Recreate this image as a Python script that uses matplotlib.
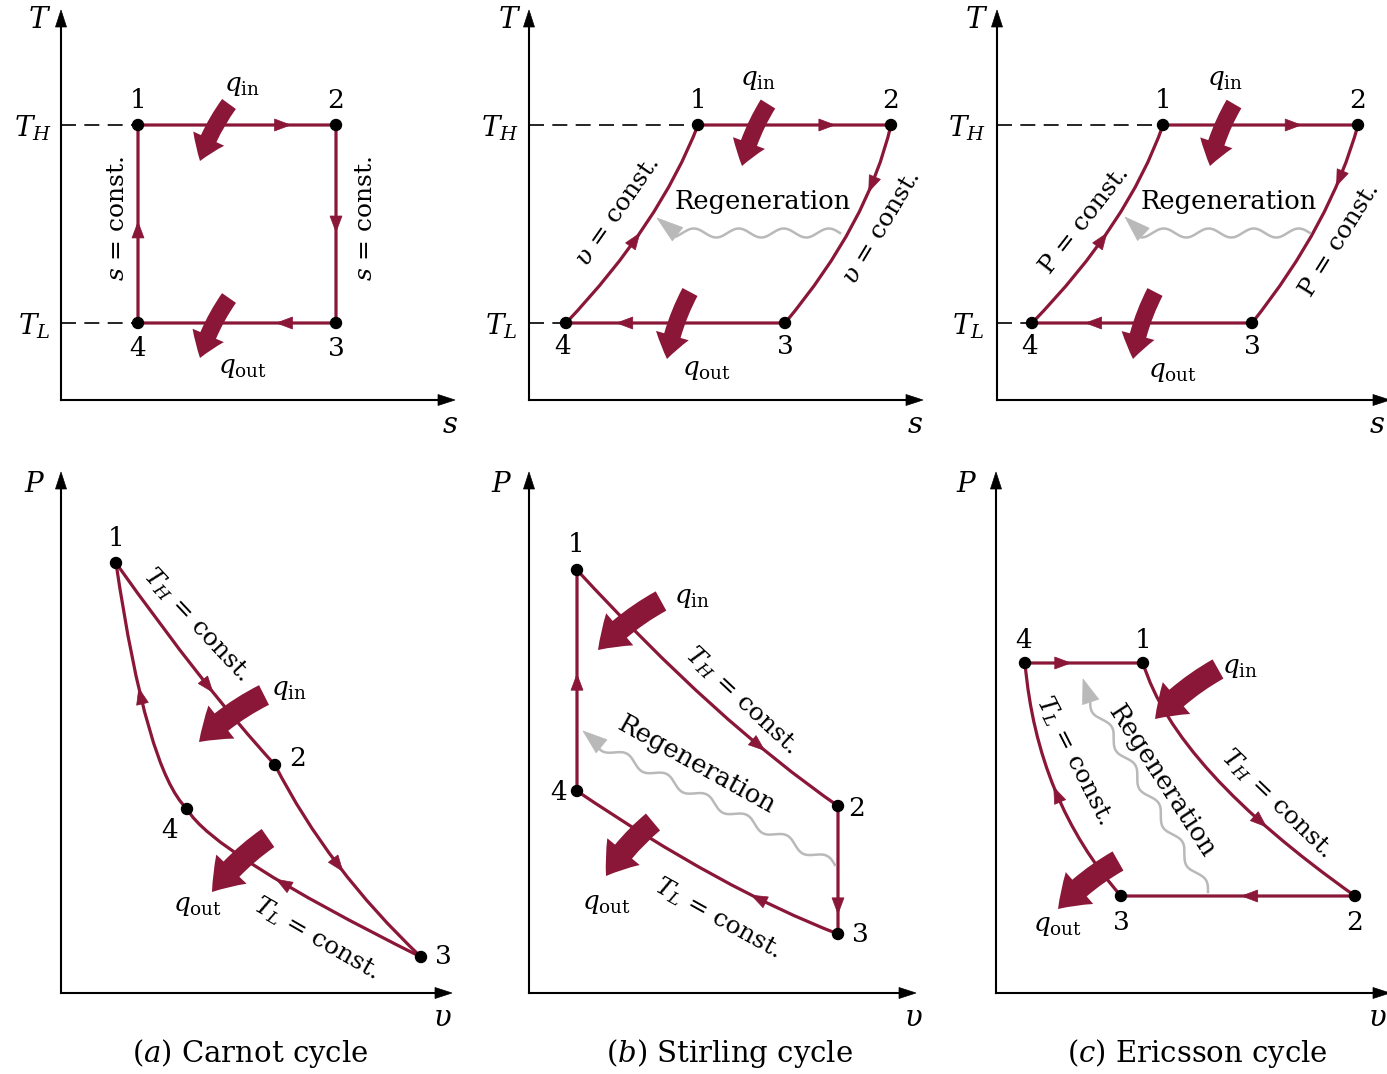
import numpy as np
import matplotlib.pyplot as plt
from matplotlib.path import Path
from matplotlib.patches import PathPatch, Polygon, Circle, FancyArrowPatch, ArrowStyle

plt.rcParams['font.family'] = ['DejaVu Serif']
plt.rcParams['mathtext.fontset'] = 'dejavuserif'

RED = '#8a1638'
GRAY = '#b9b9b9'
PX = 72 / 100  # points per pixel at dpi 100

# ---- state points 1..4 (schematic positions, px) and halfway point of each process 1-2, 2-3, 3-4, 4-1 ----
carnot_ts_x = [138, 336, 336, 138]
carnot_ts_y = [125, 125, 323, 323]
carnot_ts_mx = [237, 336, 237, 138]
carnot_ts_my = [125, 224, 323, 224]

stirling_ts_x = [698, 891, 785, 566]
stirling_ts_y = [125, 125, 323, 323]
stirling_ts_mx = [794, 853, 675, 646]
stirling_ts_my = [125, 224, 323, 224]

ericsson_ts_x = [1163, 1358, 1252, 1032]
ericsson_ts_y = [125, 125, 323, 323]
ericsson_ts_mx = [1260, 1318, 1142, 1113]
ericsson_ts_my = [125, 224, 323, 224]

carnot_pv_x = [116, 275, 421, 187]
carnot_pv_y = [563, 765, 957, 809]
carnot_pv_mx = [200, 338, 258, 149]
carnot_pv_my = [676, 865, 868, 728]

stirling_pv_x = [577, 838, 838, 577]
stirling_pv_y = [570, 806, 934, 791]
stirling_pv_mx = [712, 838, 715, 577]
stirling_pv_my = [705, 870, 876, 680]

ericsson_pv_x = [1143, 1355, 1121, 1025]
ericsson_pv_y = [663, 896, 896, 663]
ericsson_pv_mx = [1212, 1238, 1055, 1084]
ericsson_pv_my = [774, 896, 790, 663]

# where the direction arrow sits on each process (curve parameter)
carnot_ts_t = [0.73, 0.5, 0.26, 0.47]
stirling_ts_t = [0.67, 0.3, 0.73, 0.42]
ericsson_ts_t = [0.67, 0.27, 0.72, 0.42]
carnot_pv_t = [0.55, 0.5, 0.4, 0.62]
stirling_pv_t = [0.68, 0.78, 0.33, 0.49]
ericsson_pv_t = [0.7, 0.45, 0.48, 0.32]


def head(ax, pos, d, color, L, W, tip_at=False, z=3):
    d = np.asarray(d, float)
    d = d / np.hypot(*d)
    n = np.array([-d[1], d[0]])
    if tip_at:
        tip, base = pos, pos - d * L
    else:
        tip, base = pos + d * L / 2, pos - d * L / 2
    ax.add_patch(Polygon([tip, base + n * W / 2, base - n * W / 2], closed=True,
                         fc=color, ec=color, lw=0.5, zorder=z))


def cycle(ax, xs, ys, mxs, mys, ts):
    for i in range(4):
        j = (i + 1) % 4
        p0 = np.array([xs[i], ys[i]], float)
        p1 = np.array([xs[j], ys[j]], float)
        m = np.array([mxs[i], mys[i]], float)
        c = 2 * m - 0.5 * (p0 + p1)
        path = Path([p0, c, p1], [Path.MOVETO, Path.CURVE3, Path.CURVE3])
        ax.add_patch(PathPatch(path, fill=False, ec=RED, lw=2.3, zorder=2))
        t = ts[i]
        pos = (1 - t) ** 2 * p0 + 2 * t * (1 - t) * c + t ** 2 * p1
        tan = 2 * (1 - t) * (c - p0) + 2 * t * (p1 - c)
        head(ax, pos, tan, RED, 16, 12)
    for x, y in zip(xs, ys):
        ax.add_patch(Circle((x, y), 5.5, color='black', zorder=4))


def frame(ax, ox, oy, ytip, xtip):
    ax.plot([ox, ox], [oy, ytip + 12], color='black', lw=1.5, zorder=1)
    ax.plot([ox, xtip - 12], [oy, oy], color='black', lw=1.5, zorder=1)
    head(ax, np.array([ox, ytip]), [0, -1], 'black', 17, 11, tip_at=True)
    head(ax, np.array([xtip, oy]), [1, 0], 'black', 17, 11, tip_at=True)


def heat(ax, x0, y0, x1, y1, big=False):
    hw, hl, tw = (42, 30, 22) if big else (34, 24, 17)
    style = ArrowStyle.Simple(head_length=hl * PX, head_width=hw * PX, tail_width=tw * PX)
    ax.add_patch(FancyArrowPatch((x0, y0), (x1, y1), arrowstyle=style, mutation_scale=1,
                                 connectionstyle='arc3,rad=0.08', fc=RED, ec=RED, lw=0,
                                 shrinkA=0, shrinkB=0, zorder=5))


def wavy(ax, x0, y0, x1, y1, xt, yt):
    p0 = np.array([x0, y0], float)
    p1 = np.array([x1, y1], float)
    d = p1 - p0
    L = np.hypot(*d)
    u = d / L
    n = np.array([-u[1], u[0]])
    s = np.linspace(0, L, 300)
    w = 4.5 * np.sin(2 * np.pi * s / 45)
    pts = p0 + np.outer(s, u) + np.outer(w, n)
    ax.plot(pts[:, 0], pts[:, 1], color=GRAY, lw=1.8, zorder=2)
    tip = np.array([xt, yt], float)
    head(ax, tip, tip - p1, GRAY, np.hypot(*(tip - p1)) + 2, 17, tip_at=True)


def label(ax, x, y, s, size=17, rot=0, color='black'):
    ax.text(x, y, s, fontsize=size, rotation=rot, ha='center', va='center',
            color=color, rotation_mode='anchor', zorder=6)


fig = plt.figure(figsize=(13.87, 10.74), dpi=100)
ax = fig.add_axes([0, 0, 1, 1])
ax.set_xlim(0, 1387)
ax.set_ylim(1074, 0)
ax.axis('off')

# ---------------- axes frames ----------------
for ox, xt in zip([61, 529, 997], [455, 923, 1390]):
    frame(ax, ox, 400, 10, xt)
for ox, xt in zip([61, 529, 996], [452, 916, 1390]):
    frame(ax, ox, 993, 472, xt)

# dashed T_H / T_L guide lines
for ox, xs, ys in [(61, carnot_ts_x, carnot_ts_y), (529, stirling_ts_x, stirling_ts_y),
                   (997, ericsson_ts_x, ericsson_ts_y)]:
    ax.plot([ox, xs[0]], [ys[0], ys[0]], color='black', lw=1.2, ls=(0, (9, 5)), zorder=1)
    ax.plot([ox, xs[3]], [ys[3], ys[3]], color='black', lw=1.2, ls=(0, (9, 5)), zorder=1)

# ---------------- cycles ----------------
cycle(ax, carnot_ts_x, carnot_ts_y, carnot_ts_mx, carnot_ts_my, carnot_ts_t)
cycle(ax, stirling_ts_x, stirling_ts_y, stirling_ts_mx, stirling_ts_my, stirling_ts_t)
cycle(ax, ericsson_ts_x, ericsson_ts_y, ericsson_ts_mx, ericsson_ts_my, ericsson_ts_t)
cycle(ax, carnot_pv_x, carnot_pv_y, carnot_pv_mx, carnot_pv_my, carnot_pv_t)
cycle(ax, stirling_pv_x, stirling_pv_y, stirling_pv_mx, stirling_pv_my, stirling_pv_t)
cycle(ax, ericsson_pv_x, ericsson_pv_y, ericsson_pv_mx, ericsson_pv_my, ericsson_pv_t)

# regeneration
wavy(ax, 840, 233, 676, 233, 657, 218)
wavy(ax, 1310, 233, 1142, 233, 1125, 217)
wavy(ax, 835, 865, 600, 745, 583, 731)
wavy(ax, 1208, 892, 1090, 700, 1083, 679)

# heat in / out
heat(ax, 229, 104, 200, 161)
heat(ax, 229, 298, 200, 358)
heat(ax, 768, 104, 742, 166)
heat(ax, 690, 292, 667, 359)
heat(ax, 1234, 104, 1210, 166)
heat(ax, 1155, 292, 1133, 359)
heat(ax, 264, 695, 199, 742, big=True)
heat(ax, 268, 838, 212, 892, big=True)
heat(ax, 661, 601, 598, 650, big=True)
heat(ax, 653, 822, 606, 876, big=True)
heat(ax, 1218, 669, 1155, 719, big=True)
heat(ax, 1118, 861, 1058, 909, big=True)

# ---------------- text ----------------
qin = r'$q_{\mathrm{in}}$'
qout = r'$q_{\mathrm{out}}$'

for x in [40, 510, 977]:
    label(ax, x, 20, r'$T$', 21)
for x in [450, 915, 1377]:
    label(ax, x, 425, r'$s$', 21)
for x in [33, 500, 967]:
    label(ax, x, 128, r'$T_H$', 20)
    label(ax, x + 1, 326, r'$T_L$', 20)
for x in [35, 502, 967]:
    label(ax, x, 484, r'$P$', 20)
for x in [442, 913, 1377]:
    label(ax, x, 1018, r'$\upsilon$', 21)

label(ax, 250, 1053, r'($a$) Carnot cycle', 21)
label(ax, 729, 1053, r'($b$) Stirling cycle', 21)
label(ax, 1197, 1053, r'($c$) Ericsson cycle', 21)

# state numbers
for pts in [[(138, 101), (336, 101), (336, 349), (138, 349)],
            [(698, 101), (891, 101), (785, 347), (563, 347)],
            [(1163, 101), (1358, 101), (1252, 347), (1030, 347)],
            [(116, 538), (298, 758), (443, 957), (170, 831)],
            [(576, 544), (857, 809), (860, 935), (559, 792)],
            [(1143, 641), (1355, 922), (1121, 922), (1024, 641)]]:
    for k, (x, y) in enumerate(pts):
        label(ax, x, y, str(k + 1), 19)

# T-s annotations
label(ax, 242, 86, qin, 19)
label(ax, 243, 368, qout, 19)
label(ax, 758, 80, qin, 19)
label(ax, 707, 370, qout, 19)
label(ax, 1225, 80, qin, 19)
label(ax, 1173, 372, qout, 19)
label(ax, 117, 218, r'$s$ = const.', 18, 90)
label(ax, 365, 218, r'$s$ = const.', 18, 90)
label(ax, 618, 212, r'$\upsilon$ = const.', 18, 55)
label(ax, 882, 228, r'$\upsilon$ = const.', 18, 59)
label(ax, 1085, 220, 'P = const.', 18, 52)
label(ax, 1340, 240, 'P = const.', 18, 58)
label(ax, 763, 202, 'Regeneration', 18.5)
label(ax, 1229, 202, 'Regeneration', 18.5)

# P-v annotations
label(ax, 289, 690, qin, 19)
label(ax, 198, 905, qout, 19)
label(ax, 197, 624, r'$T_H$ = const.', 18, -47)
label(ax, 317, 938, r'$T_L$ = const.', 18, -30)
label(ax, 692, 598, qin, 19)
label(ax, 607, 903, qout, 19)
label(ax, 742, 700, r'$T_H$ = const.', 18, -43)
label(ax, 718, 918, r'$T_L$ = const.', 18, -29)
label(ax, 697, 765, 'Regeneration', 18.5, -29)
label(ax, 1240, 668, qin, 19)
label(ax, 1058, 926, qout, 19)
label(ax, 1075, 760, r'$T_L$ = const.', 18, -63)
label(ax, 1162, 781, 'Regeneration', 18.5, -57)
label(ax, 1277, 803, r'$T_H$ = const.', 18, -44)

fig.savefig('out.png', dpi=100)
